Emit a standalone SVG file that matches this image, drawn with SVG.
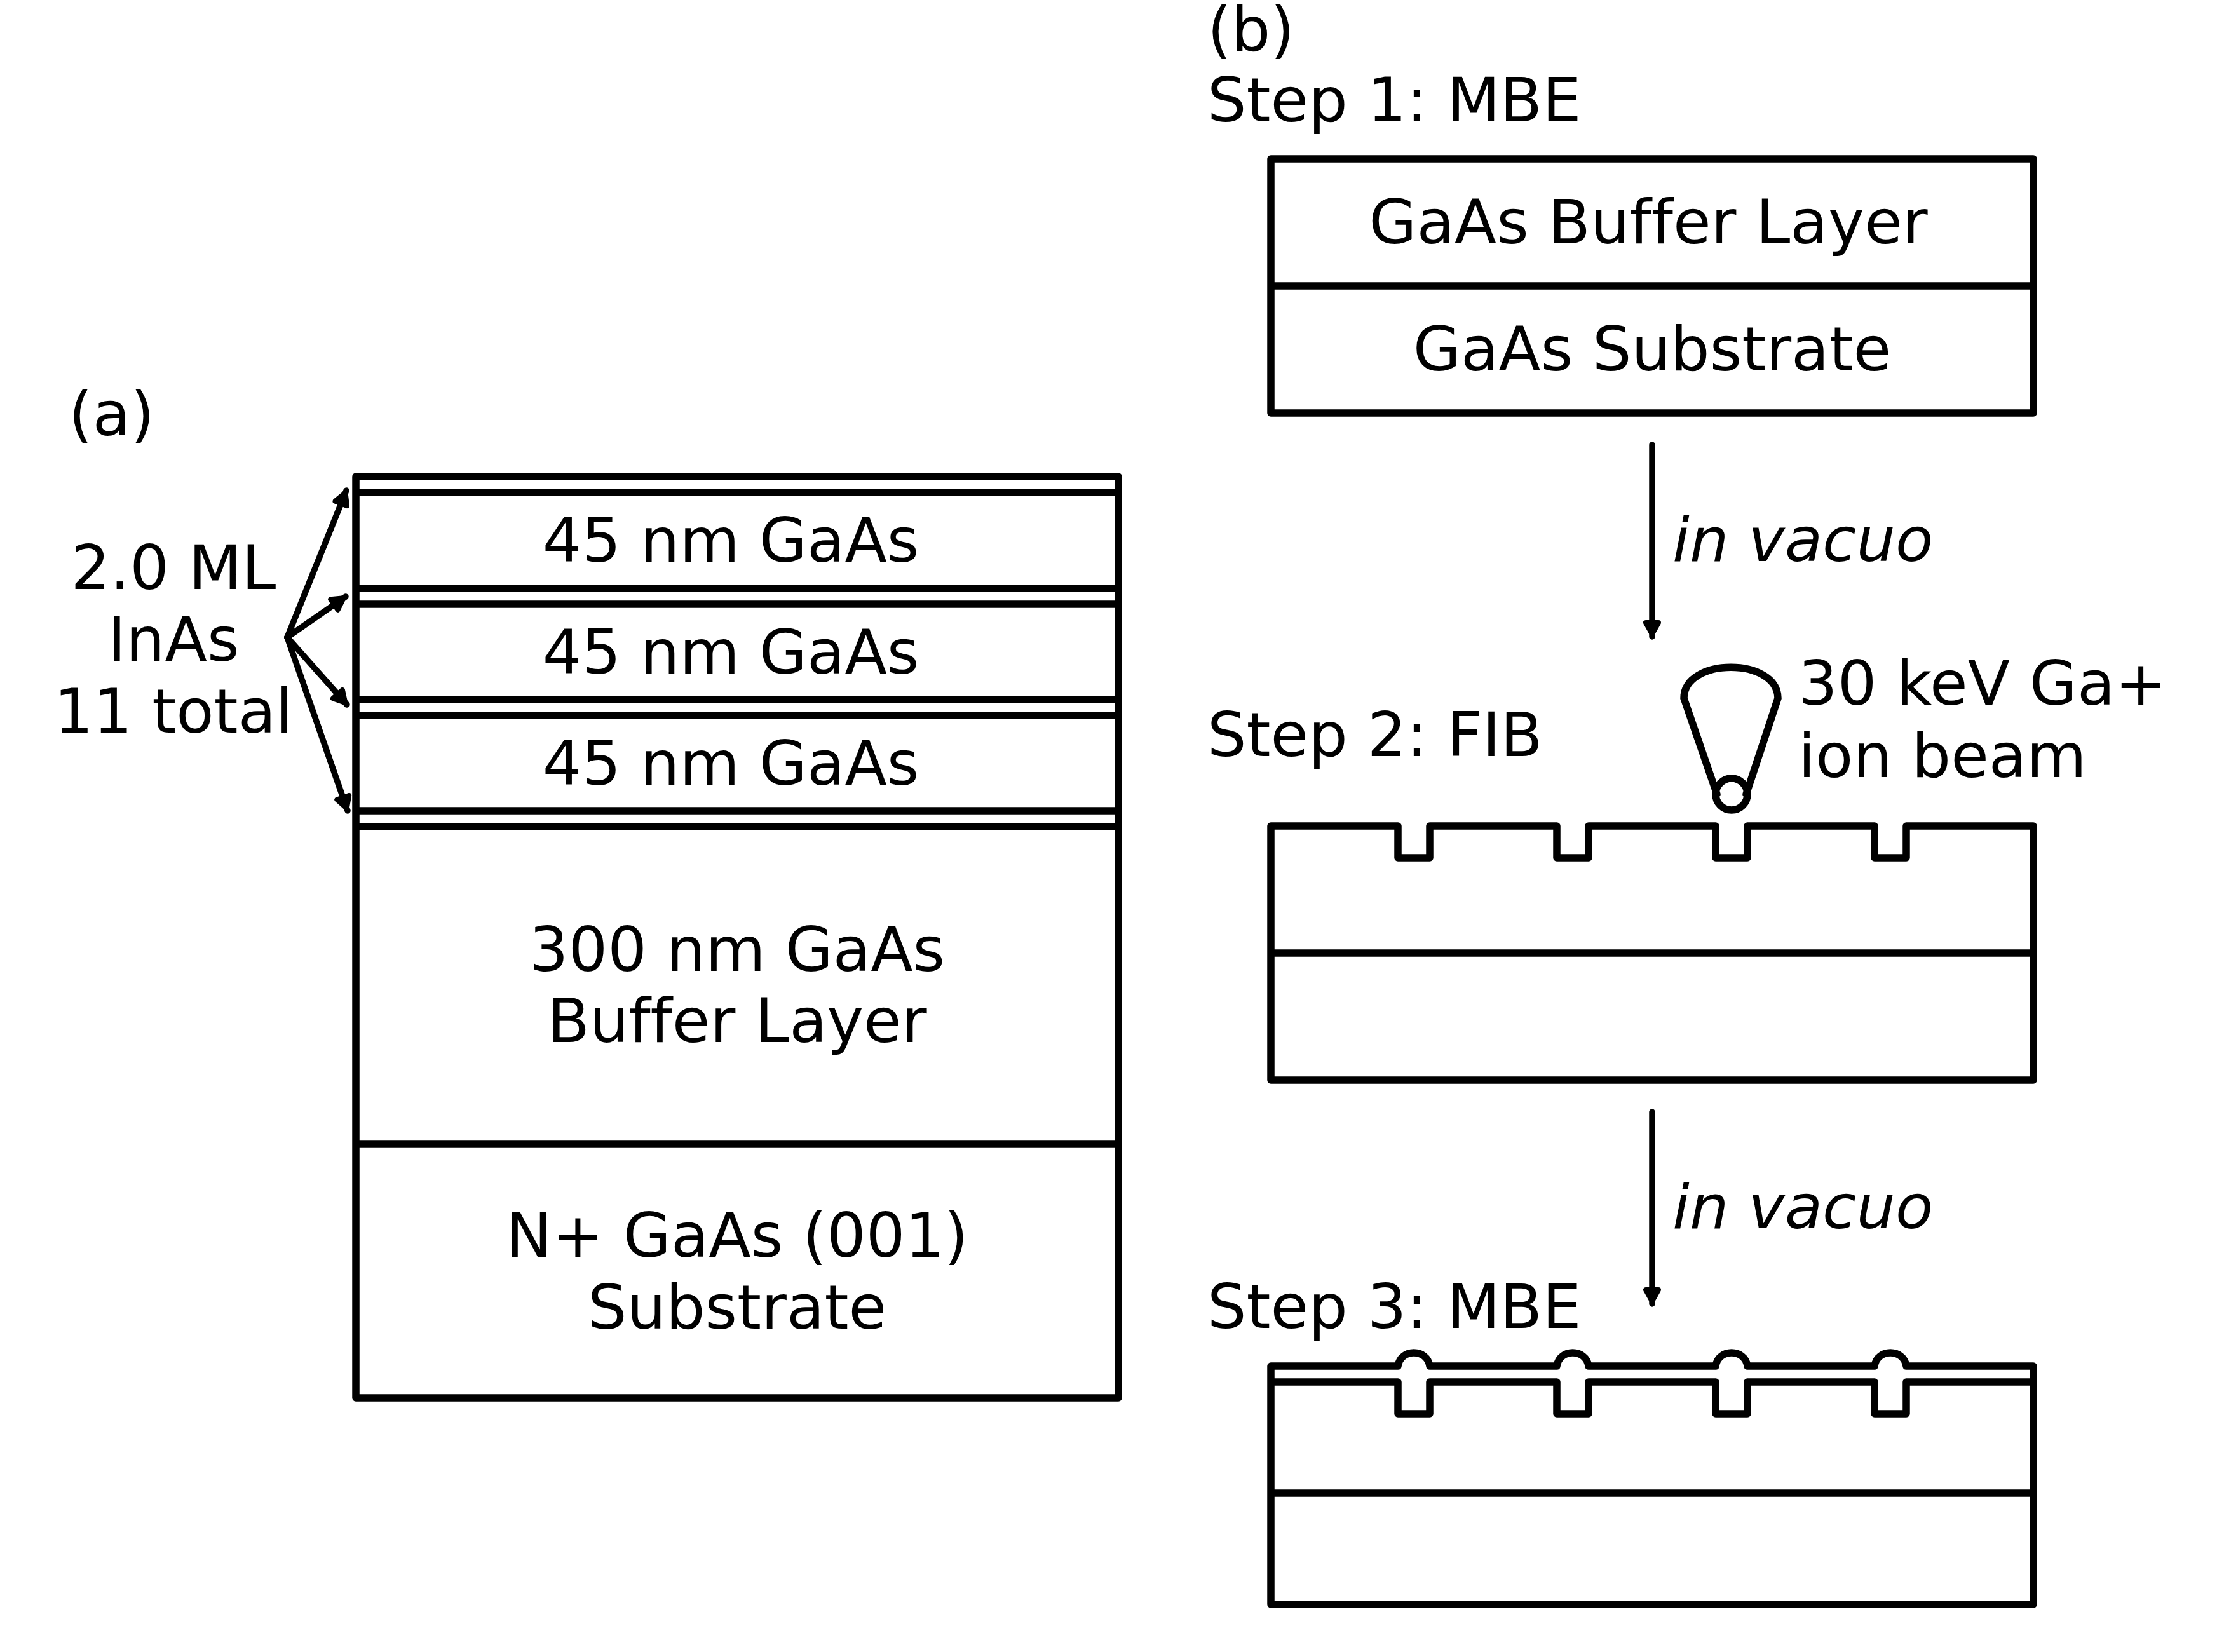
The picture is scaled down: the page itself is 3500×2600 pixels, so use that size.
<svg xmlns="http://www.w3.org/2000/svg" width="3500" height="2600" viewBox="0 0 3500 2600">
<style>
text{font-family:"DejaVu Sans",sans-serif;font-size:97px;fill:#000;font-variant-ligatures:none}
.m{text-anchor:middle}
.i{font-style:italic}
.s{fill:none;stroke:#000;stroke-width:11.5;stroke-linejoin:round;stroke-linecap:round}
.a{fill:none;stroke:#000;stroke-width:9.5;stroke-linecap:round;marker-end:url(#h)}
</style>
<defs>
<marker id="h" markerUnits="userSpaceOnUse" markerWidth="48" markerHeight="48" refX="4" refY="24" orient="auto" viewBox="-24 0 48 48"><path d="M-18,14 L0,24 L-18,34Z" fill="#000" stroke="#000" stroke-width="8" stroke-linejoin="round"/></marker>
</defs>
<rect width="3500" height="2600" fill="#fff"/>
<g id="panel-a">
<text x="108" y="685">(a)</text>
<g id="stack"><path class="s" d="M560,750H1760V2200H560Z M560,775H1760 M560,926H1760 M560,951H1760 M560,1101H1760 M560,1126H1760 M560,1276H1760 M560,1301H1760 M560,1800H1760"/></g>
<g id="layer-1"><text class="m" x="1150" y="884">45 nm GaAs</text></g>
<g id="layer-2"><text class="m" x="1150" y="1060">45 nm GaAs</text></g>
<g id="layer-3"><text class="m" x="1150" y="1235">45 nm GaAs</text></g>
<g id="buffer"><text class="m" x="1160" y="1528">300 nm GaAs</text><text class="m" x="1160" y="1640">Buffer Layer</text></g>
<g id="substrate"><text class="m" x="1160" y="1978">N+ GaAs (001)</text><text class="m" x="1160" y="2091">Substrate</text></g>
<g id="inas"><text class="m" x="273" y="927">2.0 ML</text><text class="m" x="273" y="1040">InAs</text><text class="m" x="273" y="1153">11 total</text></g>
</g>
<g id="panel-b">
<text x="1900" y="80">(b)</text>
<text x="1900" y="191">Step 1: MBE</text>
<text x="1900" y="1190">Step 2: FIB</text>
<text x="1900" y="2090">Step 3: MBE</text>
<g id="step1"><path class="s" d="M2000,250H3200V650H2000Z M2000,450H3200"/><text class="m" x="2594" y="383">GaAs Buffer Layer</text><text class="m" x="2600" y="583">GaAs Substrate</text></g>
<g id="step2"><path class="s" d="M2000,1700V1300H2200V1350H2250V1300H2450V1350H2500V1300H2700V1350H2750V1300H2950V1350H3000V1300H3200V1700Z M2000,1500H3200"/></g>
<g id="beam"><path class="s" d="M2702,1250L2650,1099C2650,1034 2798,1034 2798,1099L2748,1250"/><circle class="s" cx="2725" cy="1250" r="25"/><text x="2830" y="1109">30 keV Ga+</text><text x="2830" y="1223">ion beam</text></g>
<g id="step3"><path class="s" d="M2000,2525V2150H2200C2204,2122 2246,2122 2250,2150H2450C2454,2122 2496,2122 2500,2150H2700C2704,2122 2746,2122 2750,2150H2950C2954,2122 2996,2122 3000,2150H3200V2525Z M2000,2175H2200V2225H2250V2175H2450V2225H2500V2175H2700V2225H2750V2175H2950V2225H3000V2175H3200 M2000,2350H3200"/></g>
<text class="i" x="2632" y="883">in vacuo</text>
<text class="i" x="2632" y="1933">in vacuo</text>
</g>
<g id="connectors">
<path class="a" d="M452,1003L545,772"/>
<path class="a" d="M452,1003L544,939"/>
<path class="a" d="M452,1003L546,1109"/>
<path class="a" d="M452,1003L547,1276"/>
<path class="a" d="M2600,700V1002"/>
<path class="a" d="M2600,1750V2052"/>
</g>
</svg>
